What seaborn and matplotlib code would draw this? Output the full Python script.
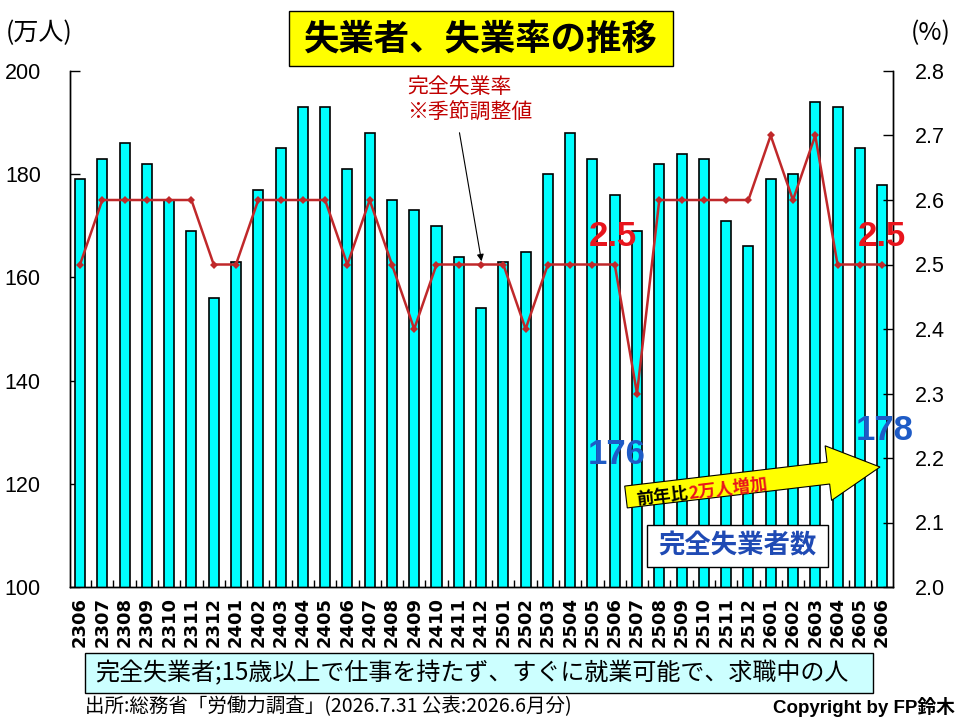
import numpy as np
import pandas as pd
import matplotlib
matplotlib.use("Agg")
import matplotlib.pyplot as plt
import seaborn as sns
from matplotlib.patches import Rectangle, FancyArrow, FancyArrowPatch

# ---- data ----
months = ["2306", "2307", "2308", "2309", "2310", "2311", "2312",
          "2401", "2402", "2403", "2404", "2405", "2406", "2407", "2408",
          "2409", "2410", "2411", "2412",
          "2501", "2502", "2503", "2504", "2505", "2506", "2507", "2508",
          "2509", "2510", "2511", "2512",
          "2601", "2602", "2603", "2604", "2605", "2606"]
unemployed = [179, 183, 186, 182, 175, 169, 156,
              163, 177, 185, 193, 193, 181, 188, 175,
              173, 170, 164, 154,
              163, 165, 180, 188, 183, 176, 169, 182,
              184, 183, 171, 166,
              179, 180, 194, 193, 185, 178]
rate = [2.5, 2.6, 2.6, 2.6, 2.6, 2.6, 2.5,
        2.5, 2.6, 2.6, 2.6, 2.6, 2.5, 2.6, 2.5,
        2.4, 2.5, 2.5, 2.5,
        2.5, 2.4, 2.5, 2.5, 2.5, 2.5, 2.3, 2.6,
        2.6, 2.6, 2.6, 2.6,
        2.7, 2.6, 2.7, 2.5, 2.5, 2.5]
left_ticks = [100, 120, 140, 160, 180, 200]
right_ticks = [2.0, 2.1, 2.2, 2.3, 2.4, 2.5, 2.6, 2.7, 2.8]

sns.set_theme(style="white")
plt.rcParams["font.family"] = ["Liberation Sans", "Noto Sans CJK JP", "DejaVu Sans"]
JP = ["Noto Sans CJK JP", "DejaVu Sans"]

W, H = 960, 720
fig = plt.figure(figsize=(W / 100, H / 100), dpi=100)
T = fig.dpi_scale_trans


def px(x, y):
    return (x / 100, (H - y) / 100)


ax = fig.add_axes([70 / W, 1 - 587 / H, 823 / W, 516 / H])
df = pd.DataFrame({"month": months, "unemployed": unemployed})
sns.barplot(data=df, x="month", y="unemployed", color="#00FFFF", saturation=1,
            width=0.45, edgecolor="black", linewidth=1.2, ax=ax)
n = len(months)
ax.set_ylim(100, 200)
ax.set_xlim(-0.45, n - 0.51)
ax.set_yticks(left_ticks)
ax.set_yticklabels([str(v) for v in left_ticks])
ax.set_xlabel("")
ax.set_ylabel("")
ax.set_xticks(range(n))
ax.set_xticklabels(months, rotation=90, fontfamily="DejaVu Sans",
                   fontweight="bold", fontsize=13)
ax.set_xticks(np.arange(n - 1) + 0.5, minor=True)
ax.tick_params(axis="x", which="major", length=0, pad=7, colors="black")
ax.tick_params(axis="x", which="minor", direction="in", length=5, width=1,
               bottom=True, color="black")
ax.tick_params(axis="y", direction="in", length=7, width=1, pad=21,
               labelsize=15.5, left=True, colors="black")
ax.spines["top"].set_visible(False)
for s in ["left", "right", "bottom"]:
    ax.spines[s].set_color("black")
    ax.spines[s].set_linewidth(1)

ax2 = ax.twinx()
sns.lineplot(x=np.arange(n), y=rate, ax=ax2, color="#C0282A", lw=1.8,
             marker="D", markersize=4.5, markeredgewidth=0,
             markerfacecolor="#C0282A")
ax2.set_ylim(2.0, 2.8)
ax2.set_yticks(right_ticks)
ax2.set_yticklabels([f"{v:.1f}" for v in right_ticks])
ax2.tick_params(axis="y", direction="in", length=7, width=1, pad=16,
                labelsize=15.5, right=True, colors="black")
ax2.set_ylabel("")
ax2.spines["top"].set_visible(False)
for s in ["left", "right", "bottom"]:
    ax2.spines[s].set_color("black")
    ax2.spines[s].set_linewidth(1)

# ---- axis unit labels ----
fig.text(*px(6, 33), "(万人)", transform=T, fontsize=18, family=JP,
         ha="left", va="center", color="black")
fig.text(*px(951, 33), "(%)", transform=T, fontsize=18, family=JP,
         ha="right", va="center", color="black")

# ---- title box ----
fig.add_artist(Rectangle(px(289, 66), 384 / 100, 55 / 100, transform=T,
                         facecolor="#FFFF00", edgecolor="black", lw=1))
fig.text(*px(481, 39), "失業者、失業率の推移", transform=T, fontsize=25.5,
         family=JP, fontweight="bold", ha="center", va="center", color="black")

# ---- red rate annotation ----
fig.text(*px(407, 87), "完全失業率", transform=T, fontsize=15, family=JP,
         ha="left", va="center", color="#C00000")
fig.text(*px(407, 113), "※季節調整値", transform=T, fontsize=15, family=JP,
         ha="left", va="center", color="#C00000")
fig.add_artist(FancyArrowPatch(px(459, 130), px(482, 264), transform=T,
                               arrowstyle="-|>", mutation_scale=10, lw=0.8,
                               color="black"))

# ---- value labels ----
for (x, y, s, c) in [(613, 236, "2.5", "#E8141C"), (882, 236, "2.5", "#E8141C"),
                     (617, 455, "176", "#1E5BC6"), (885, 431, "178", "#1E5BC6")]:
    fig.text(*px(x, y), s, transform=T, fontsize=25, fontweight="bold",
             family=["Liberation Sans", "DejaVu Sans"], ha="center",
             va="center", color=c)

# ---- yellow arrow ----
x0, y0 = px(626, 497)
x1, y1 = px(880, 467)
fig.add_artist(FancyArrow(x0, y0, x1 - x0, y1 - y0, width=0.22, head_width=0.55,
                          head_length=0.52, length_includes_head=True,
                          transform=T, facecolor="#FFFF00", edgecolor="black",
                          lw=0.8))
ang = np.degrees(np.arctan2(y1 - y0, x1 - x0))
fig.text(*px(636, 500), "前年比", transform=T, fontsize=12.5, family=JP,
         fontweight="bold", rotation=ang, rotation_mode="anchor",
         ha="left", va="center", color="black")
fig.text(*px(689, 494), "2万人増加", transform=T, fontsize=12.5, family=JP,
         fontweight="bold", rotation=ang, rotation_mode="anchor",
         ha="left", va="center", color="#E8141C")

# ---- count label box ----
fig.add_artist(Rectangle(px(647, 567), 181 / 100, 42 / 100, transform=T,
                         facecolor="white", edgecolor="black", lw=1))
fig.text(*px(737, 546), "完全失業者数", transform=T, fontsize=19, family=JP,
         fontweight="bold", ha="center", va="center", color="#1F4AB4")

# ---- bottom definition box ----
fig.add_artist(Rectangle(px(85, 693), 788 / 100, 40 / 100, transform=T,
                         facecolor="#CCFFFF", edgecolor="black", lw=1))
fig.text(*px(95, 673), "完全失業者;15歳以上で仕事を持たず、すぐに就業可能で、求職中の人",
         transform=T, fontsize=17.3, family=JP, ha="left", va="center",
         color="black")
fig.text(*px(85, 707), "出所:総務省「労働力調査」(2026.7.31 公表:2026.6月分)",
         transform=T, fontsize=14, family=JP, ha="left", va="center",
         color="black")
fig.text(*px(955, 707), "Copyright by FP鈴木", transform=T, fontsize=13.5,
         family=["Liberation Sans", "Noto Sans CJK JP"], fontweight="bold",
         ha="right", va="center", color="black")

fig.savefig("out.png", dpi=100, facecolor="white")
